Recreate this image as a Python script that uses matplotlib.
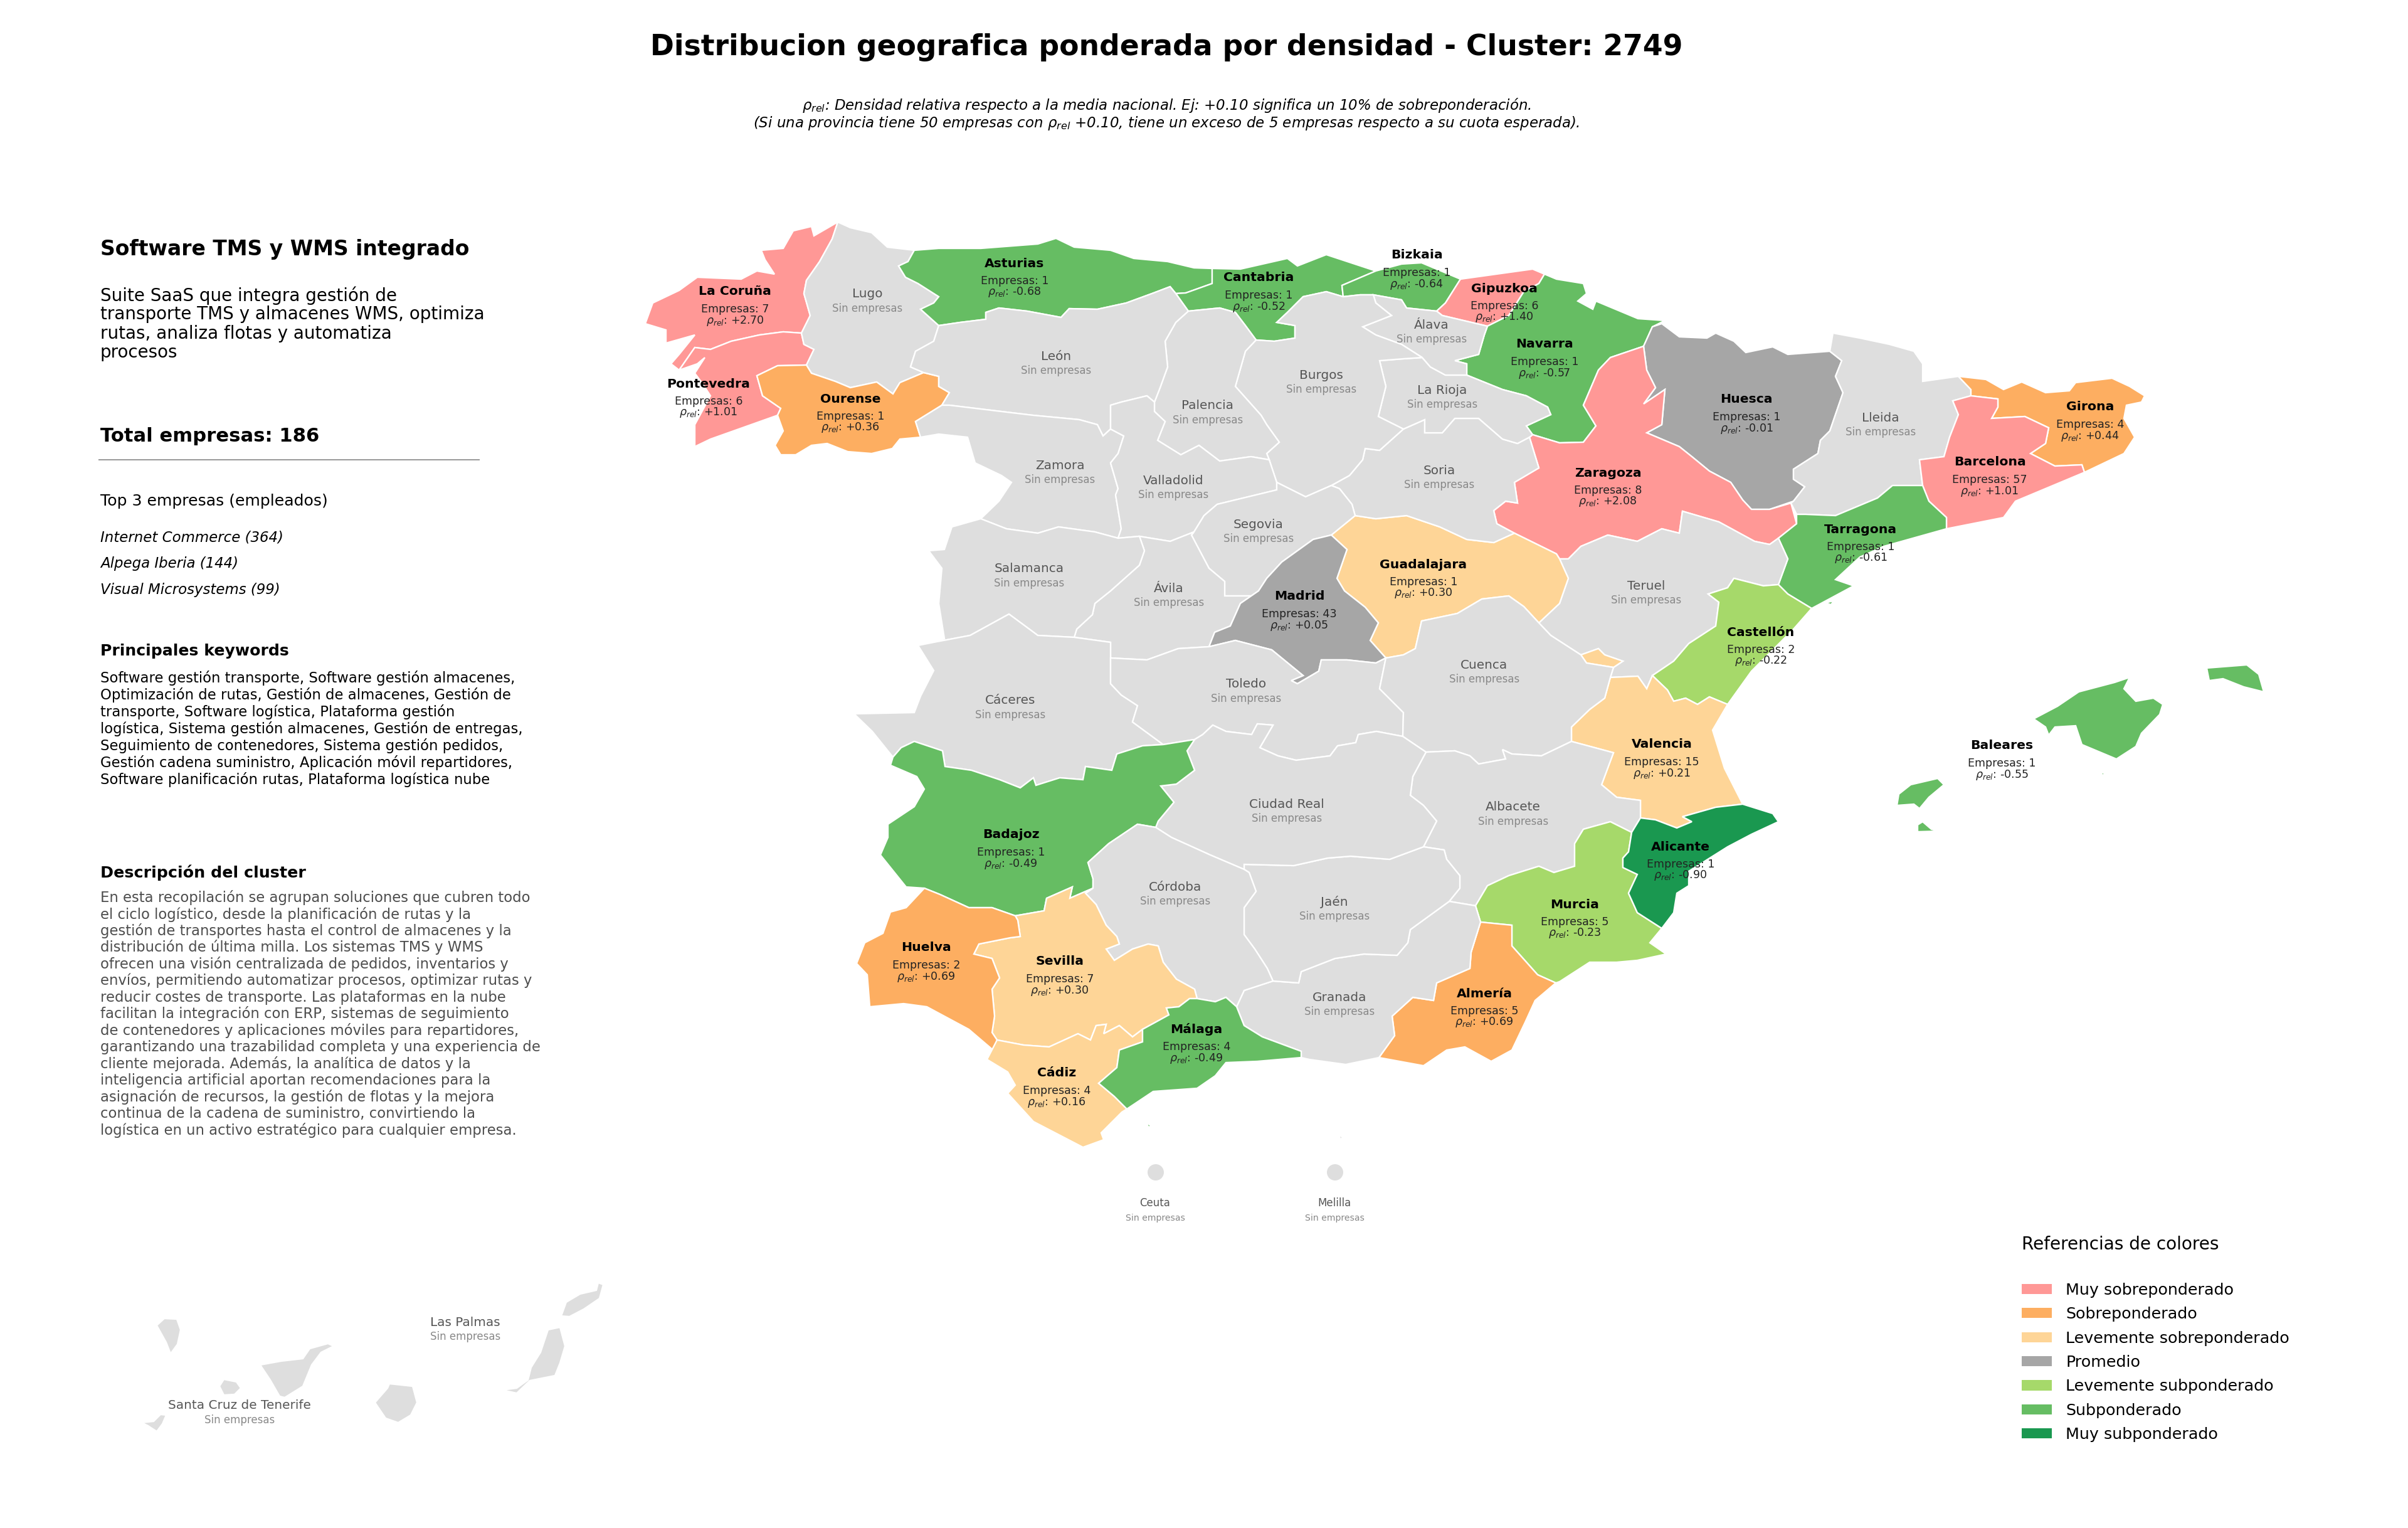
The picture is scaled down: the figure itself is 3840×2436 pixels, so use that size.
import matplotlib
matplotlib.use("Agg")
import matplotlib.pyplot as plt
from matplotlib.patches import Polygon, Circle, Patch

# companies per province and relative density
empresas = {
    "La Coruña": 7, "Pontevedra": 6, "Ourense": 1, "Asturias": 1, "Cantabria": 1, "Bizkaia": 1,
    "Gipuzkoa": 6, "Navarra": 1, "Huesca": 1, "Girona": 4, "Barcelona": 57, "Zaragoza": 8,
    "Tarragona": 1, "Madrid": 43, "Guadalajara": 1, "Castellón": 2, "Valencia": 15, "Baleares": 1,
    "Alicante": 1, "Murcia": 5, "Almería": 5, "Badajoz": 1, "Huelva": 2, "Sevilla": 7,
    "Cádiz": 4, "Málaga": 4,
}
rho_rel = {
    "La Coruña": 2.70, "Pontevedra": 1.01, "Ourense": 0.36, "Asturias": -0.68, "Cantabria": -0.52,
    "Bizkaia": -0.64, "Gipuzkoa": 1.40, "Navarra": -0.57, "Huesca": -0.01, "Girona": 0.44,
    "Barcelona": 1.01, "Zaragoza": 2.08, "Tarragona": -0.61, "Madrid": 0.05, "Guadalajara": 0.30,
    "Castellón": -0.22, "Valencia": 0.21, "Baleares": -0.55, "Alicante": -0.90, "Murcia": -0.23,
    "Almería": 0.69, "Badajoz": -0.49, "Huelva": 0.69, "Sevilla": 0.30, "Cádiz": 0.16, "Málaga": -0.49,
}

legend_labels = ["Muy sobreponderado", "Sobreponderado", "Levemente sobreponderado", "Promedio",
                 "Levemente subponderado", "Subponderado", "Muy subponderado"]
legend_colors = ["#FF9896", "#FDAE61", "#FED597", "#A6A6A6", "#A6D96A", "#66BD63", "#1A9850"]
GRIS = "#DEDEDE"

top_empresas = ["Internet Commerce (364)", "Alpega Iberia (144)", "Visual Microsystems (99)"]
resumen = ["Suite SaaS que integra gestión de", "transporte TMS y almacenes WMS, optimiza",
           "rutas, analiza flotas y automatiza", "procesos"]
keywords = ["Software gestión transporte, Software gestión almacenes,",
            "Optimización de rutas, Gestión de almacenes, Gestión de",
            "transporte, Software logística, Plataforma gestión",
            "logística, Sistema gestión almacenes, Gestión de entregas,",
            "Seguimiento de contenedores, Sistema gestión pedidos,",
            "Gestión cadena suministro, Aplicación móvil repartidores,",
            "Software planificación rutas, Plataforma logística nube"]
descripcion = ["En esta recopilación se agrupan soluciones que cubren todo",
               "el ciclo logístico, desde la planificación de rutas y la",
               "gestión de transportes hasta el control de almacenes y la",
               "distribución de última milla. Los sistemas TMS y WMS",
               "ofrecen una visión centralizada de pedidos, inventarios y",
               "envíos, permitiendo automatizar procesos, optimizar rutas y",
               "reducir costes de transporte. Las plataformas en la nube",
               "facilitan la integración con ERP, sistemas de seguimiento",
               "de contenedores y aplicaciones móviles para repartidores,",
               "garantizando una trazabilidad completa y una experiencia de",
               "cliente mejorada. Además, la analítica de datos y la",
               "inteligencia artificial aportan recomendaciones para la",
               "asignación de recursos, la gestión de flotas y la mejora",
               "continua de la cadena de suministro, convirtiendo la",
               "logística en un activo estratégico para cualquier empresa."]

# province outlines, in image pixels
shapes = {
    "La Coruña": [[(1336,354),(1298,376),(1294,361),(1265,368),(1249,396),(1214,399),(1220,414),(1235,437),(1207,432),(1182,445),(1112,442),(1083,463),(1041,483),(1029,516),(1062,526),(1062,547),(1108,534),(1083,565),(1070,580),(1083,590),(1108,554),(1133,557),(1166,544),(1211,534),(1249,529),(1278,531),(1292,503),(1282,468),(1286,447),(1307,417),(1327,381)]],
    "Pontevedra": [[(1278,531),(1249,529),(1211,534),(1166,544),(1133,557),(1108,554),(1083,590),(1112,580),(1124,570),(1108,595),(1120,611),(1133,631),(1108,677),(1108,712),(1133,700),(1240,662),(1245,651),(1216,631),(1207,599),(1240,583),(1286,582),(1298,557),(1282,549)]],
    "Lugo": [[(1336,354),(1356,363),(1390,371),(1415,394),(1458,399),(1448,417),(1433,424),(1444,442),(1464,452),(1497,473),(1489,483),(1468,493),(1497,519),(1489,544),(1460,560),(1452,585),(1473,594),(1435,610),(1424,628),(1398,609),(1356,618),(1332,608),(1294,595),(1286,582),(1298,557),(1282,549),(1278,531),(1292,503),(1282,468),(1286,447),(1307,417),(1327,381)]],
    "Ourense": [[(1286,582),(1294,595),(1332,608),(1356,618),(1398,609),(1424,628),(1435,610),(1473,594),(1497,600),(1497,616),(1514,626),(1502,646),(1460,672),(1468,697),(1435,700),(1423,715),(1390,723),(1352,720),(1319,707),(1294,710),(1269,725),(1245,725),(1236,710),(1249,687),(1240,662),(1245,651),(1216,631),(1207,599),(1240,583)]],
    "Asturias": [[(1458,399),(1497,396),(1564,396),(1655,389),(1684,380),(1713,394),(1771,399),(1808,412),(1862,417),(1904,427),(1933,428),(1933,452),(1891,467),(1875,468),(1866,457),(1837,468),(1796,483),(1750,493),(1705,492),(1692,506),(1638,496),(1593,491),(1572,498),(1572,509),(1531,514),(1497,519),(1468,493),(1489,483),(1497,473),(1464,452),(1444,442),(1433,424),(1448,417)]],
    "Cantabria": [[(1933,428),(1978,429),(2053,412),(2069,424),(2115,406),(2194,432),(2140,455),(2142,473),(2115,465),(2078,473),(2053,498),(2036,514),(2065,519),(2065,539),(2032,544),(2003,542),(1986,519),(1970,498),(1945,491),(1895,496),(1875,468),(1891,467),(1933,452)]],
    "Bizkaia": [[(2194,432),(2235,421),(2267,419),(2329,445),(2305,483),(2291,496),(2243,491),(2235,478),(2190,470),(2169,470),(2142,473),(2140,455)],
                [(2211,494),(2222,500),(2219,507),(2210,505)]],
    "Gipuzkoa": [[(2329,445),(2444,429),(2463,437),(2454,452),(2430,465),(2406,503),(2372,520),(2300,503),(2291,496),(2305,483)]],
    "Navarra": [[(2463,437),(2482,445),(2525,452),(2530,468),(2516,480),(2540,493),(2545,480),(2612,508),(2655,511),(2635,521),(2621,552),(2568,570),(2549,590),(2525,646),(2545,679),(2525,705),(2487,706),(2444,693),(2434,679),(2473,661),(2468,649),(2434,631),(2396,621),(2339,598),(2339,580),(2320,575),(2358,565),(2367,534),(2372,520),(2406,503),(2430,465),(2454,452)]],
    "Huesca": [[(2635,521),(2650,516),(2678,537),(2722,539),(2736,531),(2765,544),(2784,562),(2827,553),(2851,565),(2918,560),(2937,575),(2927,600),(2939,626),(2918,687),(2903,702),(2899,723),(2860,748),(2860,764),(2878,776),(2860,799),(2822,812),(2793,812),(2779,797),(2760,769),(2726,751),(2698,728),(2678,712),(2626,690),(2650,677),(2655,621),(2621,644),(2640,618),(2626,590),(2621,552)]],
    "Zaragoza": [[(2621,552),(2626,590),(2640,618),(2621,644),(2655,621),(2650,677),(2626,690),(2678,712),(2698,728),(2726,751),(2760,769),(2779,797),(2793,812),(2822,812),(2856,802),(2865,835),(2836,858),(2822,868),(2798,863),(2741,832),(2683,815),(2678,850),(2650,843),(2611,863),(2564,853),(2521,871),(2501,891),(2487,891),(2482,883),(2415,850),(2387,835),(2382,814),(2401,799),(2420,802),(2415,769),(2454,746),(2439,697),(2444,693),(2487,706),(2525,705),(2545,679),(2525,646),(2549,590),(2568,570)]],
    "Lleida": [[(2923,531),(2966,539),(3013,549),(3052,560),(3066,580),(3066,608),(3123,600),(3143,621),(3143,631),(3114,639),(3123,661),(3109,697),(3100,728),(3061,733),(3066,774),(3018,774),(2994,794),(2927,822),(2879,820),(2865,820),(2856,802),(2860,799),(2878,776),(2860,764),(2860,748),(2899,723),(2903,702),(2918,687),(2939,626),(2927,600),(2937,575),(2918,560)]],
    "Girona": [[(3123,600),(3167,605),(3195,621),(3224,609),(3262,626),(3300,623),(3310,610),(3368,603),(3396,616),(3420,631),(3415,641),(3391,646),(3387,667),(3404,697),(3387,723),(3324,753),(3320,741),(3277,743),(3238,723),(3262,707),(3267,682),(3229,664),(3176,667),(3186,649),(3186,636),(3143,631),(3143,621)]],
    "Barcelona": [[(3143,631),(3186,636),(3186,649),(3176,667),(3229,664),(3267,682),(3262,707),(3238,723),(3277,743),(3320,741),(3324,753),(3214,799),(3195,825),(3104,843),(3104,825),(3076,799),(3066,774),(3061,733),(3100,728),(3109,697),(3123,661),(3114,639)]],
    "Tarragona": [[(3066,774),(3076,799),(3104,825),(3104,843),(3004,871),(2966,888),(2927,924),(2956,934),(2889,970),(2851,947),(2836,932),(2851,891),(2836,858),(2865,835),(2865,820),(2879,820),(2927,822),(2994,794),(3018,774)],
                  [(2911,961),(2924,958),(2920,964)]],
    "Teruel": [[(2501,891),(2521,871),(2564,853),(2611,863),(2650,843),(2678,850),(2683,815),(2741,832),(2798,863),(2822,868),(2836,858),(2851,891),(2836,932),(2812,934),(2765,922),(2755,937),(2724,947),(2741,960),(2736,998),(2693,1026),(2669,1054),(2635,1077),(2626,1098),(2612,1078),(2568,1080),(2573,1064),(2588,1054),(2559,1044),(2549,1034),(2521,1044),(2473,1013),(2454,993),(2487,962),(2501,922),(2487,891)]],
    "Castellón": [[(2765,922),(2812,934),(2836,932),(2851,947),(2889,970),(2860,1003),(2793,1070),(2755,1123),(2726,1111),(2707,1123),(2688,1113),(2669,1118),(2659,1100),(2635,1077),(2669,1054),(2693,1026),(2736,998),(2741,960),(2724,947),(2755,937)]],
    "Valencia": [[(2568,1080),(2612,1078),(2626,1098),(2635,1077),(2659,1100),(2669,1118),(2688,1113),(2707,1123),(2726,1111),(2755,1123),(2731,1164),(2750,1225),(2779,1282),(2736,1287),(2683,1302),(2698,1310),(2674,1320),(2640,1307),(2616,1304),(2616,1276),(2578,1271),(2554,1251),(2573,1200),(2506,1182),(2506,1159),(2535,1131),(2559,1113)],
                 [(2521,1044),(2549,1034),(2559,1044),(2588,1054),(2573,1064),(2530,1057)]],
    "Guadalajara": [[(2123,853),(2161,822),(2194,827),(2243,822),(2296,840),(2339,860),(2382,865),(2415,850),(2482,883),(2487,891),(2501,922),(2487,962),(2454,993),(2430,967),(2406,950),(2363,955),(2324,978),(2267,990),(2257,1034),(2238,1044),(2210,1049),(2185,1021),(2198,993),(2177,968),(2144,942),(2132,922),(2148,876)]],
    "Soria": [[(2238,684),(2272,669),(2272,690),(2300,690),(2320,667),(2358,667),(2396,700),(2420,707),(2439,697),(2454,746),(2415,769),(2420,802),(2401,799),(2382,814),(2387,835),(2415,850),(2382,865),(2339,860),(2296,840),(2243,822),(2194,827),(2161,822),(2156,804),(2136,779),(2123,774),(2152,758),(2173,733),(2177,715),(2200,718)]],
    "La Rioja": [[(2200,575),(2238,572),(2268,570),(2281,585),(2305,598),(2339,598),(2396,621),(2434,631),(2468,649),(2473,661),(2434,679),(2444,693),(2439,697),(2420,707),(2396,700),(2358,667),(2320,667),(2300,690),(2272,690),(2272,669),(2238,684),(2198,664),(2210,616)]],
    "Álava": [[(2190,470),(2235,478),(2243,491),(2291,496),(2300,503),(2372,520),(2367,534),(2358,565),(2320,575),(2339,580),(2339,598),(2305,598),(2281,585),(2268,570),(2235,549),(2194,534),(2173,521),(2219,503),(2194,483)]],
    "Burgos": [[(2003,542),(2032,544),(2065,539),(2065,519),(2036,514),(2053,498),(2078,473),(2115,465),(2142,473),(2169,470),(2190,470),(2194,483),(2219,503),(2173,521),(2194,534),(2235,549),(2268,570),(2238,572),(2200,575),(2210,616),(2198,664),(2238,684),(2200,718),(2177,715),(2173,733),(2152,758),(2123,774),(2082,792),(2036,769),(2024,733),(2020,723),(2040,705),(2020,677),(2011,662),(1970,616),(1986,560)]],
    "Palencia": [[(1895,496),(1945,491),(1970,498),(1986,519),(2003,542),(1986,560),(1970,616),(2011,662),(2020,677),(2040,705),(2020,723),(2024,733),(1995,728),(1945,735),(1912,710),(1883,725),(1846,702),(1858,672),(1841,656),(1841,641),(1850,618),(1862,585),(1858,544),(1875,514)]],
    "León": [[(1497,519),(1531,514),(1572,509),(1572,498),(1593,491),(1638,496),(1692,506),(1705,492),(1750,493),(1796,483),(1837,468),(1866,457),(1875,468),(1895,496),(1875,514),(1858,544),(1862,585),(1850,618),(1841,641),(1829,631),(1788,641),(1771,646),(1771,684),(1759,695),(1750,677),(1721,669),(1647,662),(1580,654),(1514,646),(1502,646),(1514,626),(1497,616),(1497,600),(1473,594),(1452,585),(1460,560),(1489,544)]],
    "Zamora": [[(1502,646),(1514,646),(1580,654),(1647,662),(1721,669),(1750,677),(1759,695),(1771,684),(1792,695),(1783,723),(1771,738),(1783,779),(1779,789),(1788,843),(1783,858),(1746,848),(1688,840),(1655,850),(1605,843),(1564,827),(1593,799),(1613,769),(1597,758),(1555,738),(1543,697),(1497,692),(1468,697),(1460,672)]],
    "Valladolid": [[(1792,695),(1771,684),(1771,646),(1788,641),(1829,631),(1841,641),(1841,656),(1858,672),(1846,702),(1883,725),(1912,710),(1945,735),(1995,728),(2024,733),(2036,769),(2036,781),(1941,804),(1920,822),(1904,848),(1866,863),(1817,855),(1783,858),(1788,843),(1779,789),(1783,779),(1771,738),(1783,723)]],
    "Segovia": [[(2036,769),(2082,792),(2123,774),(2136,779),(2156,804),(2161,822),(2123,853),(2094,860),(2044,896),(2020,922),(2007,942),(2003,950),(1953,950),(1953,927),(1928,906),(1900,853),(1904,848),(1920,822),(1941,804),(2036,781)]],
    "Ávila": [[(1817,855),(1866,863),(1904,848),(1900,853),(1928,906),(1953,927),(1953,950),(2003,950),(2007,942),(1978,962),(1962,998),(1937,1008),(1928,1031),(1879,1034),(1829,1052),(1771,1049),(1771,1024),(1713,1016),(1717,1003),(1742,980),(1746,962),(1771,942),(1817,901),(1825,878)]],
    "Salamanca": [[(1564,827),(1605,843),(1655,850),(1688,840),(1746,848),(1783,858),(1817,855),(1825,878),(1817,901),(1771,942),(1746,962),(1742,980),(1717,1003),(1713,1016),(1655,1013),(1609,979),(1547,1013),(1489,1024),(1506,1018),(1497,962),(1502,906),(1481,878),(1506,876),(1518,840)]],
    "Madrid": [[(2123,853),(2148,876),(2132,922),(2144,942),(2177,968),(2198,993),(2185,1021),(2210,1049),(2194,1057),(2148,1052),(2107,1052),(2103,1070),(2069,1090),(2059,1085),(2078,1077),(2028,1036),(1970,1021),(1928,1031),(1937,1008),(1962,998),(1978,962),(2007,942),(2020,922),(2044,896),(2094,860)]],
    "Cáceres": [[(1489,1024),(1547,1013),(1609,979),(1655,1013),(1713,1016),(1771,1024),(1771,1049),(1771,1090),(1788,1108),(1814,1125),(1806,1151),(1855,1187),(1822,1189),(1781,1202),(1773,1228),(1731,1222),(1727,1243),(1690,1240),(1652,1252),(1648,1240),(1627,1256),(1594,1243),(1549,1228),(1507,1222),(1503,1197),(1458,1182),(1437,1192),(1424,1207),(1391,1166),(1362,1138),(1458,1136),(1468,1110),(1489,1069),(1464,1029)]],
    "Toledo": [[(1771,1049),(1829,1052),(1879,1034),(1928,1031),(1970,1021),(2028,1036),(2078,1077),(2059,1085),(2069,1090),(2103,1070),(2107,1052),(2148,1052),(2194,1057),(2210,1049),(2200,1098),(2238,1136),(2237,1174),(2195,1166),(2166,1171),(2162,1184),(2133,1189),(2121,1205),(2067,1212),(2038,1205),(2009,1192),(2030,1156),(2005,1154),(1996,1171),(1955,1166),(1934,1156),(1918,1171),(1905,1179),(1855,1187),(1806,1151),(1814,1125),(1788,1108),(1771,1090)]],
    "Cuenca": [[(2210,1049),(2238,1044),(2257,1034),(2267,990),(2324,978),(2363,955),(2406,950),(2430,967),(2454,993),(2473,1013),(2521,1044),(2530,1057),(2573,1064),(2568,1080),(2559,1113),(2535,1131),(2506,1159),(2506,1182),(2458,1205),(2411,1202),(2396,1195),(2401,1210),(2358,1218),(2344,1205),(2320,1197),(2274,1199),(2237,1174),(2238,1136),(2200,1098)]],
    "Albacete": [[(2274,1199),(2320,1197),(2344,1205),(2358,1218),(2401,1210),(2396,1195),(2411,1202),(2458,1205),(2506,1182),(2573,1200),(2554,1251),(2578,1271),(2616,1276),(2616,1304),(2602,1327),(2568,1310),(2525,1322),(2511,1345),(2511,1381),(2478,1391),(2454,1381),(2406,1396),(2372,1412),(2353,1444),(2311,1437),(2328,1416),(2328,1396),(2307,1370),(2303,1355),(2270,1350),(2291,1309),(2270,1284),(2249,1268),(2253,1238)]],
    "Murcia": [[(2353,1444),(2372,1412),(2406,1396),(2454,1381),(2478,1391),(2511,1381),(2511,1345),(2525,1322),(2568,1310),(2602,1327),(2597,1358),(2588,1368),(2588,1383),(2611,1394),(2597,1424),(2611,1455),(2650,1480),(2631,1503),(2657,1521),(2611,1531),(2578,1534),(2535,1534),(2487,1565),(2481,1567),(2452,1554),(2411,1508),(2411,1475),(2361,1470)]],
    "Almería": [[(2361,1470),(2411,1475),(2411,1508),(2452,1554),(2481,1567),(2448,1595),(2432,1630),(2411,1674),(2378,1692),(2336,1669),(2307,1674),(2270,1699),(2199,1686),(2224,1651),(2220,1620),(2253,1590),(2286,1595),(2291,1567),(2344,1544),(2346,1518)]],
    "Alicante": [[(2602,1327),(2616,1304),(2640,1307),(2674,1320),(2698,1310),(2683,1302),(2736,1287),(2779,1282),(2827,1297),(2836,1310),(2793,1330),(2755,1350),(2693,1389),(2693,1412),(2674,1424),(2669,1455),(2650,1480),(2611,1455),(2597,1424),(2611,1394),(2588,1383),(2588,1368),(2597,1358)]],
    "Granada": [[(2030,1564),(2071,1567),(2075,1549),(2129,1528),(2175,1521),(2228,1523),(2245,1503),(2249,1482),(2311,1437),(2353,1444),(2361,1470),(2346,1518),(2344,1544),(2291,1567),(2286,1595),(2253,1590),(2220,1620),(2224,1651),(2199,1686),(2146,1697),(2088,1689),(2075,1686),(2075,1676),(2013,1653),(1984,1635),(1972,1605),(1984,1579)],
                [(2136,1809),(2141,1813),(2137,1818)]],
    "Jaén": [[(1984,1378),(2063,1380),(2117,1368),(2154,1365),(2216,1370),(2270,1350),(2303,1355),(2307,1370),(2328,1396),(2328,1416),(2311,1437),(2249,1482),(2245,1503),(2228,1523),(2175,1521),(2129,1528),(2075,1549),(2071,1567),(2030,1564),(2021,1544),(2001,1513),(1984,1490),(1984,1447),(2003,1421),(1992,1391),(1984,1386)]],
    "Ciudad Real": [[(1905,1179),(1918,1171),(1934,1156),(1955,1166),(1996,1171),(2005,1154),(2030,1156),(2009,1192),(2038,1205),(2067,1212),(2121,1205),(2133,1189),(2162,1184),(2166,1171),(2195,1166),(2237,1174),(2274,1199),(2253,1238),(2249,1268),(2270,1284),(2291,1309),(2270,1350),(2216,1370),(2154,1365),(2117,1368),(2063,1380),(1984,1378),(1984,1386),(1930,1363),(1868,1335),(1843,1319),(1847,1309),(1872,1279),(1851,1253),(1876,1250),(1905,1228),(1893,1197)]],
    "Badajoz": [[(1424,1207),(1437,1192),(1458,1182),(1503,1197),(1507,1222),(1549,1228),(1594,1243),(1627,1256),(1648,1240),(1652,1252),(1690,1240),(1727,1243),(1731,1222),(1773,1228),(1781,1202),(1822,1189),(1855,1187),(1905,1179),(1893,1197),(1905,1228),(1876,1250),(1851,1253),(1872,1279),(1847,1309),(1843,1319),(1814,1314),(1768,1345),(1735,1375),(1743,1401),(1743,1416),(1706,1432),(1710,1414),(1669,1432),(1665,1452),(1619,1460),(1582,1447),(1545,1447),(1499,1426),(1474,1416),(1445,1414),(1404,1363),(1416,1335),(1416,1314),(1458,1286),(1474,1258),(1462,1238),(1420,1220)]],
    "Córdoba": [[(1843,1319),(1868,1335),(1930,1363),(1984,1386),(1992,1391),(2003,1421),(1984,1447),(1984,1490),(2001,1513),(2021,1544),(2030,1564),(1984,1579),(1972,1605),(1955,1590),(1938,1597),(1909,1592),(1905,1577),(1876,1561),(1855,1534),(1847,1508),(1831,1505),(1806,1513),(1777,1531),(1764,1513),(1785,1505),(1781,1493),(1764,1475),(1748,1442),(1731,1424),(1743,1416),(1743,1401),(1735,1375),(1768,1345),(1814,1314)]],
    "Sevilla": [[(1743,1416),(1731,1424),(1748,1442),(1764,1475),(1781,1493),(1785,1505),(1764,1513),(1777,1531),(1806,1513),(1831,1505),(1847,1508),(1855,1534),(1876,1561),(1905,1577),(1909,1592),(1897,1592),(1880,1605),(1860,1607),(1864,1618),(1822,1641),(1806,1653),(1785,1635),(1760,1648),(1764,1633),(1748,1635),(1739,1658),(1719,1648),(1673,1669),(1632,1666),(1590,1658),(1582,1646),(1586,1620),(1582,1577),(1594,1559),(1582,1528),(1553,1521),(1561,1505),(1611,1495),(1627,1493),(1623,1467),(1619,1460),(1665,1452),(1669,1432),(1710,1414),(1706,1432)]],
    "Huelva": [[(1474,1416),(1499,1426),(1545,1447),(1582,1447),(1619,1460),(1623,1467),(1627,1493),(1611,1495),(1561,1505),(1553,1521),(1582,1528),(1594,1559),(1582,1577),(1586,1620),(1582,1646),(1590,1658),(1586,1676),(1545,1641),(1478,1605),(1441,1600),(1387,1605),(1383,1554),(1366,1536),(1379,1503),(1408,1488),(1420,1454),(1445,1447)]],
    "Cádiz": [[(1590,1658),(1632,1666),(1673,1669),(1719,1648),(1739,1658),(1748,1635),(1764,1633),(1760,1648),(1785,1635),(1806,1653),(1822,1641),(1822,1661),(1785,1674),(1781,1702),(1752,1727),(1777,1748),(1797,1768),(1789,1773),(1756,1806),(1760,1817),(1727,1829),(1648,1788),(1607,1743),(1619,1730),(1607,1709),(1574,1689)]],
    "Málaga": [[(1822,1641),(1864,1618),(1860,1607),(1880,1605),(1897,1592),(1909,1592),(1938,1597),(1955,1590),(1972,1605),(1984,1635),(2013,1653),(2075,1676),(2075,1686),(2005,1692),(1955,1694),(1938,1715),(1909,1735),(1839,1740),(1797,1768),(1777,1748),(1752,1727),(1781,1702),(1785,1674),(1822,1661)],
               [(1828,1790),(1835,1794),(1832,1798)]],
    "Baleares": [[(3243,1146),(3281,1126),(3315,1103),(3372,1088),(3396,1080),(3387,1098),(3406,1118),(3434,1113),(3449,1123),(3444,1139),(3415,1169),(3406,1190),(3375,1210),(3320,1187),(3310,1157),(3277,1159),(3267,1172),(3262,1159)],
                 [(3519,1065),(3583,1060),(3602,1075),(3610,1103),(3578,1095),(3545,1082),(3523,1085)],
                 [(3028,1266),(3047,1251),(3090,1241),(3100,1251),(3076,1271),(3061,1289),(3052,1282),(3025,1284)],
                 [(3058,1315),(3066,1310),(3080,1322),(3092,1325),(3058,1326)],
                 [(3350,1232),(3356,1232),(3354,1237)]],
    "Santa Cruz de Tenerife": [[(250,2113),(262,2102),(282,2103),(288,2120),(283,2143),(272,2158),(265,2140)],
                               [(415,2176),(448,2170),(483,2166),(494,2150),(523,2142),(532,2146),(512,2156),(497,2176),(483,2210),(454,2228),(446,2226),(431,2200)],
                               [(350,2210),(357,2199),(377,2203),(384,2213),(374,2223),(357,2224)],
                               [(226,2268),(245,2266),(256,2255),(265,2256),(259,2270),(250,2282),(236,2273)]],
    "Las Palmas": [[(598,2236),(618,2213),(621,2206),(658,2210),(665,2236),(655,2256),(635,2268),(615,2261)],
                   [(801,2216),(824,2213),(842,2200),(847,2180),(862,2156),(874,2120),(893,2116),(901,2146),(893,2173),(885,2193),(845,2201),(824,2221)],
                   [(895,2098),(903,2076),(925,2063),(951,2057),(954,2045),(962,2048),(956,2070),(931,2087),(908,2099)]],
}
plazas = {"Ceuta": (1843, 1869), "Melilla": (2129, 1869)}

# where each province name sits
label_xy = {
    "La Coruña": (1172,464), "Lugo": (1383,468), "Asturias": (1618,419), "Cantabria": (2007,442),
    "Bizkaia": (2259,406), "Gipuzkoa": (2399,459), "Álava": (2283,517), "Navarra": (2463,548),
    "Pontevedra": (1130,611), "Ourense": (1356,635), "León": (1684,567), "Palencia": (1926,646),
    "Burgos": (2107,597), "La Rioja": (2300,621), "Soria": (2295,749), "Huesca": (2785,636),
    "Lleida": (2999,665), "Girona": (3333,648), "Barcelona": (3173,736), "Zaragoza": (2564,753),
    "Tarragona": (2967,843), "Zamora": (1690,741), "Valladolid": (1871,765), "Segovia": (2007,835),
    "Madrid": (2072,950), "Guadalajara": (2270,899), "Teruel": (2625,933), "Castellón": (2808,1007),
    "Salamanca": (1641,906), "Ávila": (1864,937), "Cáceres": (1611,1116), "Toledo": (1987,1090),
    "Cuenca": (2367,1059), "Valencia": (2650,1186), "Albacete": (2413,1286), "Alicante": (2680,1349),
    "Murcia": (2511,1441), "Almería": (2367,1583), "Baleares": (3192,1188), "Ciudad Real": (2052,1281),
    "Badajoz": (1612,1330), "Córdoba": (1874,1413), "Jaén": (2128,1437), "Huelva": (1477,1510),
    "Sevilla": (1690,1532), "Málaga": (1908,1640), "Cádiz": (1685,1710), "Granada": (2136,1589),
    "Las Palmas": (742,2107), "Santa Cruz de Tenerife": (382,2240),
}
label_small_xy = {"Ceuta": (1842,1918), "Melilla": (2128,1918)}


def categoria(r):
    if r >= 1.0:
        return 0
    if r >= 0.35:
        return 1
    if r >= 0.10:
        return 2
    if r > -0.10:
        return 3
    if r > -0.35:
        return 4
    if r > -0.75:
        return 5
    return 6


fig = plt.figure(figsize=(16, 10.15), dpi=240)
ax = fig.add_axes([0, 0, 1, 1])
ax.set_xlim(0, 3840)
ax.set_ylim(2436, 0)
ax.axis("off")

for prov, rings in shapes.items():
    color = legend_colors[categoria(rho_rel[prov])] if prov in empresas else GRIS
    for ring in rings:
        ax.add_patch(Polygon(ring, closed=True, facecolor=color, edgecolor="white", linewidth=0.7))

for xy in plazas.values():
    ax.add_patch(Circle(xy, 13, facecolor=GRIS, edgecolor="none"))

for prov, (x, y) in label_xy.items():
    if prov in empresas:
        ax.text(x, y + 1, prov, fontsize=6.1, fontweight="bold", ha="center", va="center", color="black")
        ax.text(x, y + 29, f"Empresas: {empresas[prov]}", fontsize=5.25, ha="center", va="center", color="#222222")
        ax.text(x, y + 47, rf"$\rho_{{rel}}$: {rho_rel[prov]:+.2f}", fontsize=5.25, ha="center", va="center", color="#222222")
    else:
        ax.text(x, y + 1, prov, fontsize=6, ha="center", va="center", color="#555555")
        ax.text(x, y + 24, "Sin empresas", fontsize=5, ha="center", va="center", color="#888888")

for prov, (x, y) in label_small_xy.items():
    ax.text(x, y, prov, fontsize=5, ha="center", va="center", color="#555555")
    ax.text(x, y + 24, "Sin empresas", fontsize=4.2, ha="center", va="center", color="#888888")

# header
ax.text(1860, 75, "Distribucion geografica ponderada por densidad - Cluster: 2749",
        fontsize=13.7, fontweight="bold", ha="center", va="center")
ax.text(1860, 168, r"$\rho_{rel}$: Densidad relativa respecto a la media nacional. Ej: +0.10 significa un 10% de sobreponderación.",
        fontsize=6.86, style="italic", ha="center", va="center")
ax.text(1860, 197, r"(Si una provincia tiene 50 empresas con $\rho_{rel}$ +0.10, tiene un exceso de 5 empresas respecto a su cuota esperada).",
        fontsize=6.86, style="italic", ha="center", va="center")

# left panel
LEFT = 160
ax.text(LEFT, 397, "Software TMS y WMS integrado", fontsize=9.9, fontweight="bold", va="center")
for i, line in enumerate(resumen):
    ax.text(LEFT, 471 + i * 30.3, line, fontsize=8.33, va="center")
ax.text(LEFT, 695, "Total empresas: 186", fontsize=9.2, fontweight="bold", va="center")
ax.plot([158, 764], [733, 733], color="#999999", linewidth=0.6)
ax.text(LEFT, 799, "Top 3 empresas (empleados)", fontsize=7.55, va="center")
for i, line in enumerate(top_empresas):
    ax.text(LEFT, 857 + i * 42, line, fontsize=6.85, style="italic", va="center")
ax.text(LEFT, 1038, "Principales keywords", fontsize=7.55, fontweight="bold", va="center")
for i, line in enumerate(keywords):
    ax.text(LEFT, 1081 + i * 27, line, fontsize=6.82, va="center")
ax.text(LEFT, 1391, "Descripción del cluster", fontsize=7.6, fontweight="bold", va="center")
for i, line in enumerate(descripcion):
    ax.text(LEFT, 1431 + i * 26.5, line, fontsize=6.83, va="center", color="#4d4d4d")

# legend
handles = [Patch(facecolor=c, edgecolor="none", label=l) for c, l in zip(legend_colors, legend_labels)]
leg = ax.legend(handles=handles, title="Referencias de colores", frameon=False, fontsize=7.6,
                title_fontsize=8.35, loc="upper left", bbox_to_anchor=(3224, 1970),
                bbox_transform=ax.transData, borderpad=0, borderaxespad=0,
                labelspacing=0.57, handlelength=1.9, handleheight=0.6, handletextpad=0.87)
leg._legend_box.align = "left"
leg._legend_box.sep = 14

fig.savefig("out.png", dpi=240)
